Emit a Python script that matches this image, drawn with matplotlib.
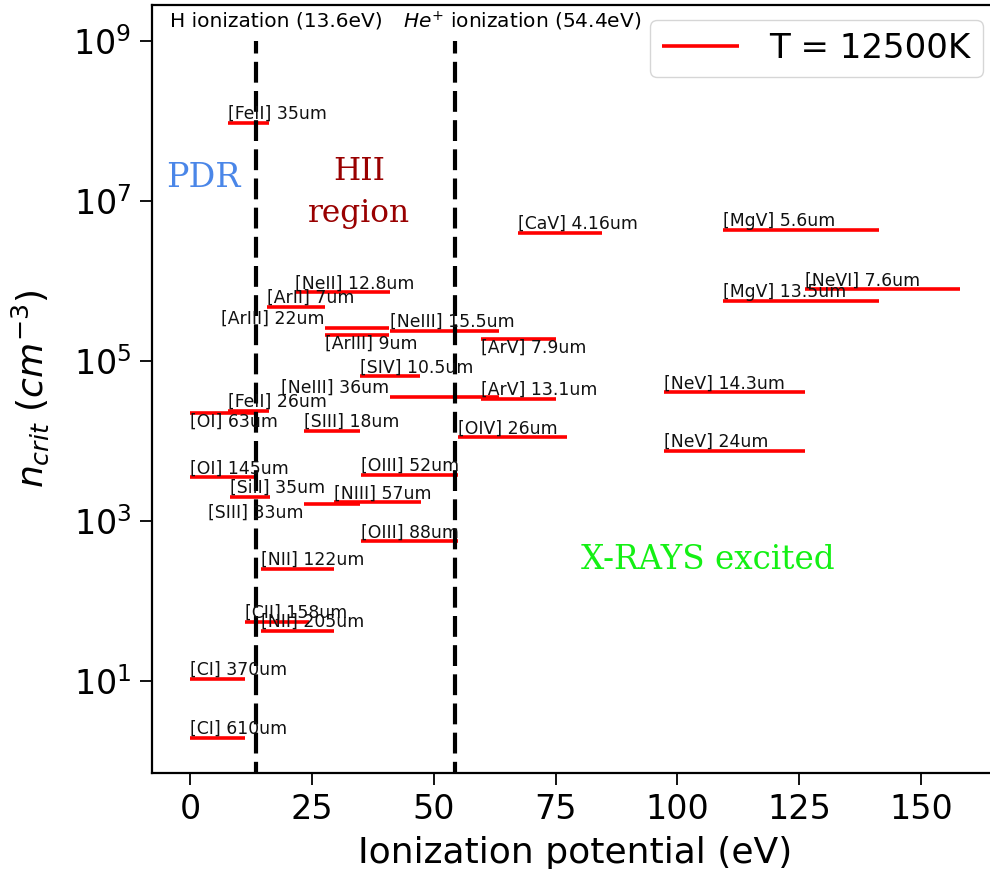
"""
Critical densities of fine-structure lines versus the ionization
potential range of their ions (T = 12500 K).
"""

import matplotlib
matplotlib.use("Agg")
import matplotlib.pyplot as plt
from matplotlib.ticker import NullLocator

# line labels
ions = ["[FeII]", "[CaV]", "[MgV]", "[NeVI]", "[MgV]", "[NeII]", "[ArII]",
        "[ArIII]", "[ArIII]", "[NeIII]", "[ArV]", "[SIV]", "[NeIII]", "[ArV]",
        "[FeII]", "[OI]", "[SIII]", "[OIV]", "[NeV]", "[NeV]", "[OI]",
        "[OIII]", "[SiII]", "[SIII]", "[NIII]", "[OIII]", "[NII]", "[CII]",
        "[NII]", "[CI]", "[CI]"]
wavelengths = ["35um", "4.16um", "5.6um", "7.6um", "13.5um", "12.8um", "7um",
               "22um", "9um", "15.5um", "7.9um", "10.5um", "36um", "13.1um",
               "26um", "63um", "18um", "26um", "14.3um", "24um", "145um",
               "52um", "35um", "33um", "57um", "88um", "122um", "158um",
               "205um", "370um", "610um"]

# ionization potential of lower and upper stage (eV)
ip_low = [7.90, 67.27, 109.27, 126.25, 109.27, 21.56, 15.76, 27.63, 27.63,
          40.96, 59.81, 34.79, 40.96, 59.81, 7.90, 0.0, 23.34, 54.94, 97.19,
          97.19, 0.0, 35.12, 8.15, 23.34, 29.60, 35.12, 14.53, 11.26, 14.53,
          0.0, 0.0]
ip_high = [16.20, 84.50, 141.33, 157.93, 141.33, 40.96, 27.63, 40.74, 40.74,
           63.45, 75.02, 47.22, 63.45, 75.02, 16.20, 13.62, 34.79, 77.41,
           126.25, 126.25, 13.62, 54.94, 16.35, 34.79, 47.45, 54.94, 29.60,
           24.38, 29.60, 11.26, 11.26]

# critical density (cm^-3)
n_crit = [9.4e7, 3.94e6, 4.27e6, 7.76e5, 5.5e5, 7.16e5, 4.68e5, 2.57e5,
          2.09e5, 2.37e5, 1.88e5, 6.38e4, 3.52e4, 3.31e4, 2.34e4, 2.24e4,
          1.33e4, 1.10e4, 4.03e4, 7.41e3, 3.47e3, 3.76e3, 1.98e3, 1.62e3,
          1.70e3, 550, 251, 54.2, 41.7, 10.5, 1.91]

h_ion = 13.6
he_ion = 54.4

# labels that do not sit on top of the left end of their line
label_place = {
    7: ("right", "bottom"),
    8: ("left", "top"),
    10: ("left", "top"),
    12: ("right", "bottom"),
    15: ("left", "top"),
    23: ("right", "top"),
}

fig = plt.figure(figsize=(9.9, 8.69), dpi=100)
ax = fig.add_axes([151.5 / 990, 1 - 773 / 869, (998 - 151.5) / 990, 768 / 869])

for i in range(len(ions)):
    ax.plot([ip_low[i], ip_high[i]], [n_crit[i], n_crit[i]], color="red",
            lw=2.6, solid_capstyle="butt",
            label="T = 12500K" if i == 0 else None)
    ha, va = label_place.get(i, ("left", "bottom"))
    ax.text(ip_low[i], n_crit[i], f"{ions[i]} {wavelengths[i]}",
            ha=ha, va=va, fontsize=12.4, color="#111111")

ax.vlines([h_ion, he_ion], 1e-1, 1e9, colors="black", lw=3,
          linestyles=(0, (5, 2)))

ax.text(-4.1, 10 ** 9.24, "H ionization (13.6eV)", fontsize=14.5, va="center")
ax.text(43.7, 10 ** 9.24, "$He^{+}$ ionization (54.4eV)", fontsize=14.5,
        va="center")

ax.text(2.8, 10 ** 7.28, "PDR", family="DejaVu Serif", fontsize=24,
        color="#4a86e8", ha="center", va="center")
ax.text(34.7, 10 ** 7.1, "HII\nregion", family="DejaVu Serif", fontsize=22.5,
        color="#990000", ha="center", va="center", linespacing=1.45)
ax.text(106.3, 10 ** 2.51, "X-RAYS excited", family="DejaVu Serif",
        fontsize=23.5, color="#14f014", ha="center", va="center")

ax.set_yscale("log")
ax.set_xlim(-7.9, 165.8)
ax.set_ylim(10 ** -0.154, 10 ** 9.446)
ax.set_yticks([1e1, 1e3, 1e5, 1e7, 1e9])
ax.yaxis.set_minor_locator(NullLocator())
ax.set_xticks([0, 25, 50, 75, 100, 125, 150])

ax.tick_params(axis="both", labelsize=24, length=8.5, width=1.3, pad=6)
for sp in ax.spines.values():
    sp.set_linewidth(1.6)

ax.set_xlabel("Ionization potential (eV)", fontsize=26, labelpad=7)
ax.set_ylabel("$n_{crit}\\ (cm^{-3})$", fontsize=26, labelpad=16)

ax.legend(loc="upper right", fontsize=24.5, handlelength=2.25,
          handletextpad=0.9, borderpad=0.35, borderaxespad=0.45)

fig.savefig("out.png", dpi=100)
